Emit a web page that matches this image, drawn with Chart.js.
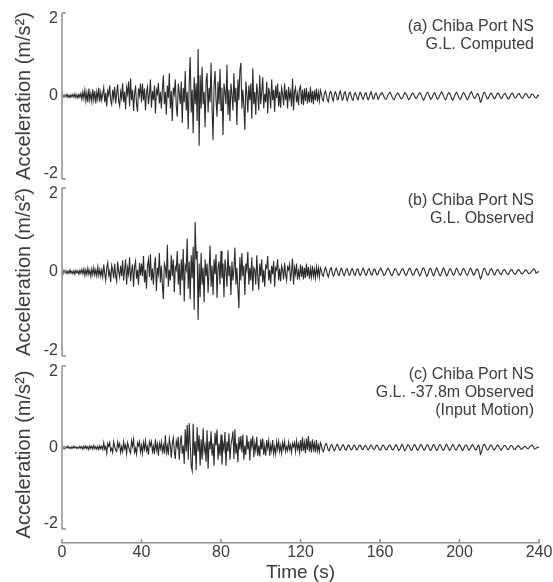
<!DOCTYPE html>
<html>
<head>
<meta charset="utf-8">
<title>Chiba Port NS acceleration</title>
<script src="https://cdn.jsdelivr.net/npm/chart.js@4.4.1/dist/chart.umd.min.js"></script>
<style>
  html, body { margin: 0; padding: 0; background: #fff; }
  #wrap { position: relative; width: 553px; height: 582px; overflow: hidden; }
  .panel { position: absolute; left: 0; width: 553px; }
</style>
</head>
<body>
<div id="wrap">
  <div class="panel" style="top:0;height:188px"><canvas id="panelA"></canvas></div>
  <div class="panel" style="top:180px;height:185px"><canvas id="panelB"></canvas></div>
  <div class="panel" style="top:357px;height:225px"><canvas id="panelC"></canvas></div>
</div>
<script>
// Sample spacing of the records (s)
const dt = 0.5;
const timeTicks = [0, 40, 80, 120, 160, 200, 240];
const accelTicks = [-2, 0, 2];
const yTitle = 'Acceleration (m/s\u00B2)';
const xTitle = 'Time (s)';

const notesA = ['(a) Chiba Port NS', 'G.L. Computed'];
const notesB = ['(b) Chiba Port NS', 'G.L. Observed'];
const notesC = ['(c) Chiba Port NS', 'G.L. -37.8m Observed', '(Input Motion)'];

// (a) G.L. computed, one row = 10 s
const computedGL = [
  0, 0.02, -0.03, 0.03, -0.02, 0.04, -0.03, 0.02, -0.04, 0.03, -0.02, 0.04, -0.03, 0.05, -0.04, 0.03, -0.05, 0.04, -0.03, 0.06,
  -0.08, 0.1, -0.06, 0.14, -0.12, 0.08, -0.15, 0.18, -0.1, 0.06, -0.13, 0.16, -0.09, 0.12, -0.18, 0.1, -0.07, 0.2, -0.14, 0.09,
  -0.1, 0.05, 0.2, -0.15, 0.08, -0.25, 0.12, 0.02, 0.26, -0.1, -0.2, 0.15, -0.05, 0.22, -0.18, 0.06, 0.28, -0.12, -0.24, 0.1,
  -0.05, 0.3, -0.15, 0.1, -0.32, 0.2, 0.05, 0.35, -0.25, 0.42, -0.1, 0.15, -0.36, 0.05, 0.25, -0.2, -0.38, 0.18, 0.02, 0.3,
  -0.15, 0.3, -0.1, 0.18, -0.35, 0.08, 0.22, -0.2, 0.05, 0.4, -0.28, 0.12, -0.1, 0.25, -0.42, 0.15, 0.05, 0.32, -0.18, 0.1,
  -0.3, 0.15, 0.5, -0.2, 0.1, -0.45, 0.25, -0.05, 0.55, -0.3, 0.12, -0.6, 0.2, 0.05, 0.4, -0.25, -0.5, 0.3, 0.08, -0.2,
  0.35, -0.65, 0.2, -0.15, 0.6, -0.35, 0.1, -0.8, 0.3, 0.94, -0.4, 0.15, -0.9, 0.45, -0.2, 0.3, -0.6, 1.13, -1.2, 0.5,
  -0.3, 0.7, -0.2, 0.1, -0.75, 0.35, 0.55, -0.4, 0.2, -0.15, 0.8, -0.3, -1.06, 0.25, 0.6, -0.1, -0.5, 0.35, -0.2, 0.65,
  -0.35, 0.2, -0.94, 0.3, 0.1, -0.2, 0.75, -0.45, 0.15, -0.6, 0.3, 0.05, -0.35, 0.55, -0.15, 0.2, -0.7, 0.4, -0.1, 0.6,
  0.8, -0.3, 0.15, -0.25, -0.82, 0.35, 0.05, -0.4, 0.25, -0.1, 0.3, -0.55, 0.67, -0.2, 0.1, -0.45, 0.3, 0.05, -0.35, 0.5,
  -0.2, 0.1, 0.45, -0.3, 0.05, -0.15, 0.35, -0.42, 0.2, 0.05, -0.3, 0.4, -0.1, 0.15, -0.38, 0.25, -0.05, 0.3, -0.25, 0.1,
  -0.28, 0.2, 0.05, -0.22, 0.3, -0.1, 0.15, -0.3, 0.22, -0.05, 0.1, -0.25, 0.42, -0.34, 0.1, 0.2, -0.15, 0.05, -0.22, 0.18,
  0.24, -0.2, 0.15, -0.22, 0.18, -0.12, 0.2, -0.18, 0.1, -0.15, 0.22, -0.16, 0.12, -0.2, 0.14, -0.1, 0.18, -0.14, 0.08, -0.12,
  0.14, 0.06, -0.08, -0.12, 0.05, 0.12, 0.04, -0.1, -0.14, 0.02, 0.11, 0.08, -0.06, -0.12, 0.03, 0.1, 0.05, -0.09, -0.08, 0.06,
  0.12, 0.02, -0.1, -0.06, 0.08, 0.1, -0.02, -0.11, -0.04, 0.07, 0.09, 0, -0.08, -0.1, 0.04, 0.08, 0.03, -0.06, -0.09, 0.02,
  0.09, 0.06, -0.04, -0.08, -0.02, 0.07, 0.08, -0.03, -0.09, -0.05, 0.05, 0.1, 0.02, -0.07, -0.06, 0.04, 0.07, 0.01, -0.08, -0.04,
  0.03, 0.07, 0.08, 0.04, -0.02, -0.07, -0.08, -0.04, 0.02, 0.06, 0.09, 0.05, -0.01, -0.06, -0.09, -0.05, 0.01, 0.05, 0.07, 0.04,
  -0.02, -0.06, -0.07, -0.03, 0.03, 0.08, 0.06, 0.01, -0.05, -0.09, -0.06, 0, 0.05, 0.07, 0.04, -0.02, -0.06, -0.05, 0, 0.05,
  0.08, 0.05, -0.01, -0.07, -0.1, -0.05, 0.02, 0.07, 0.09, 0.04, -0.03, -0.08, -0.06, 0, 0.06, 0.08, 0.03, -0.04, -0.08, -0.05,
  0.01, 0.06, 0.1, 0.06, -0.01, -0.06, -0.09, -0.04, 0.03, 0.08, 0.07, 0.02, -0.05, -0.1, -0.07, 0, 0.06, 0.09, 0.05, -0.02,
  -0.07, -0.08, -0.03, 0.04, 0.08, 0.06, 0, -0.06, -0.09, -0.05, 0.02, 0.07, 0.1, 0.05, -0.02, -0.06, -0.04, 0.01, 0.06, 0.04,
  -0.04, -0.15, -0.12, -0.02, 0.06, 0.09, 0.05, -0.02, -0.07, -0.06, 0, 0.05, 0.07, 0.03, -0.03, -0.07, -0.05, 0.01, 0.06, 0.07,
  0.03, -0.03, -0.06, -0.04, 0.02, 0.05, 0.06, 0.02, -0.04, -0.07, -0.05, 0, 0.05, 0.07, 0.04, -0.02, -0.05, -0.04, 0.01, 0.05,
  0.06, 0.02, -0.03, -0.06, -0.04, 0.01, 0.05, 0.06, 0.03, -0.02, -0.05, -0.03, 0.02, 0.05, 0.04, 0, -0.04, -0.05, -0.02, 0.02,
  0
];

// (b) G.L. observed
const observedGL = [
  0.01, -0.03, 0.04, -0.02, 0.03, -0.04, 0.02, -0.03, 0.05, -0.03, 0.02, -0.04, 0.03, -0.05, 0.04, -0.02, 0.03, -0.05, 0.04, -0.03,
  0.06, -0.04, 0.07, -0.08, 0.05, -0.06, 0.09, -0.05, 0.04, -0.1, 0.08, -0.06, 0.1, -0.07, 0.05, -0.09, 0.12, -0.08, 0.06, -0.1,
  0.05, -0.12, 0.18, -0.04, -0.2, 0.1, 0.22, -0.08, 0.02, -0.24, 0.16, 0.05, -0.15, 0.2, -0.1, -0.22, 0.25, 0.02, -0.12, 0.15,
  -0.1, 0.28, -0.2, 0.05, 0.3, -0.3, 0.1, -0.05, 0.35, -0.22, 0.02, 0.18, -0.35, 0.12, 0.25, -0.16, 0.05, -0.3, 0.22, -0.08,
  0.2, -0.1, 0.38, -0.25, 0.05, -0.4, 0.15, 0.3, -0.12, 0.42, -0.2, 0.08, -0.3, 0.15, 0.35, -0.45, 0.1, -0.05, 0.45, -0.25,
  0.15, -0.3, -0.65, 0.2, 0.1, -0.15, 0.65, -0.35, 0.05, -0.2, 0.4, -0.1, 0.3, -0.48, 0.12, 0.05, 0.5, -0.3, 0.2, -0.55,
  0.3, -0.2, 0.55, -0.7, 0.15, 0.05, 0.8, -0.4, 0.25, -0.65, 0.4, -0.15, 0.6, -0.9, 1.19, 0.3, 0.5, -1.14, 0.2, -0.6,
  0.45, -0.3, 0.1, -0.72, 0.3, -0.1, 0.2, -0.5, 0.05, 0.63, -0.35, 0.15, -0.55, 0.3, -0.05, 0.42, -0.62, 0.1, 0.25, -0.3,
  0.5, -0.15, 0.2, -0.6, 0.3, 0.05, -0.35, 0.52, -0.1, 0.15, -0.55, 0.25, -0.2, 0.05, 0.58, -0.3, 0.1, -0.4, -0.86, 0.35,
  -0.2, 0.45, -0.1, 0.15, -0.55, 0.2, 0.05, 0.48, -0.3, 0.1, -0.2, 0.35, -0.45, 0.1, 0.05, -0.3, 0.4, -0.1, -0.42, 0.2,
  -0.1, 0.3, -0.25, 0.05, -0.35, 0.15, 0.1, 0.38, -0.2, 0.05, -0.28, 0.15, -0.05, 0.26, -0.35, 0.1, 0.05, 0.3, -0.2, 0.08,
  -0.22, 0.15, 0.05, -0.18, 0.22, -0.05, -0.2, 0.12, 0.05, 0.18, -0.22, 0.02, 0.32, -0.3, 0.1, -0.05, 0.2, -0.18, 0.02, -0.12,
  0.18, -0.12, 0.14, -0.18, 0.1, -0.14, 0.2, -0.1, 0.12, -0.16, 0.08, -0.12, 0.15, -0.1, 0.06, -0.14, 0.12, -0.08, 0.1, -0.12,
  0.1, 0.04, -0.08, -0.1, 0.02, 0.11, 0.06, -0.06, -0.12, -0.02, 0.08, 0.1, -0.02, -0.1, -0.06, 0.05, 0.09, 0.02, -0.07, -0.08,
  0.03, 0.09, 0.05, -0.05, -0.09, -0.02, 0.07, 0.08, -0.01, -0.08, -0.06, 0.04, 0.08, 0.03, -0.06, -0.08, 0, 0.07, 0.06, -0.03,
  -0.08, -0.05, 0.04, 0.09, 0.04, -0.04, -0.08, -0.03, 0.05, 0.08, 0.02, -0.06, -0.07, 0.01, 0.07, 0.06, -0.02, -0.07, -0.05, 0.03,
  0.07, 0.08, 0.03, -0.03, -0.08, -0.07, -0.01, 0.05, 0.09, 0.06, 0, -0.06, -0.09, -0.04, 0.03, 0.08, 0.07, 0.01, -0.05, -0.08,
  -0.04, 0.02, 0.07, 0.08, 0.03, -0.04, -0.08, -0.06, 0.01, 0.07, 0.09, 0.04, -0.03, -0.08, -0.07, 0, 0.06, 0.08, 0.03, -0.04,
  -0.09, -0.06, 0.02, 0.08, 0.1, 0.04, -0.04, -0.1, -0.07, 0.01, 0.08, 0.09, 0.02, -0.06, -0.09, -0.03, 0.05, 0.1, 0.06, -0.02,
  -0.08, -0.09, -0.02, 0.06, 0.1, 0.05, -0.03, -0.09, -0.07, 0.01, 0.07, 0.08, 0.02, -0.05, -0.08, -0.04, 0.04, 0.09, 0.06, -0.01,
  -0.06, -0.08, -0.03, 0.04, 0.08, 0.06, -0.01, -0.07, -0.08, -0.02, 0.05, 0.09, 0.06, -0.02, -0.07, -0.06, 0, 0.06, 0.07, 0.02,
  -0.06, -0.16, -0.13, -0.03, 0.06, 0.09, 0.05, -0.02, -0.07, -0.07, -0.01, 0.05, 0.08, 0.04, -0.03, -0.07, -0.05, 0.02, 0.06, 0.05,
  0, -0.05, -0.06, -0.02, 0.04, 0.06, 0.04, -0.01, -0.05, -0.06, -0.02, 0.03, 0.06, 0.05, 0, -0.04, -0.06, -0.03, 0.02, 0.05,
  0.05, 0.01, -0.03, -0.05, -0.03, 0.01, 0.04, 0.05, 0.02, -0.02, -0.04, -0.03, 0, 0.03, 0.05, 0.08, 0.04, -0.03, -0.02, 0.01,
  0
];

// (c) G.L. -37.8m observed (input motion)
const observedInput = [
  0.01, -0.02, 0.02, -0.03, 0.02, -0.01, 0.03, -0.02, 0.01, -0.03, 0.02, -0.02, 0.03, -0.01, 0.02, -0.03, 0.01, -0.02, 0.03, -0.02,
  0.02, -0.04, 0.03, -0.02, 0.04, -0.03, 0.02, -0.05, 0.04, -0.02, 0.03, -0.04, 0.05, -0.03, 0.02, -0.04, 0.03, -0.05, 0.04, -0.03,
  0.03, -0.05, 0.12, -0.04, 0.02, -0.14, 0.1, 0.03, 0.12, -0.08, -0.02, -0.12, 0.14, 0.02, -0.06, -0.1, 0.13, 0.01, 0.1, -0.12,
  0.02, -0.1, 0.14, -0.03, 0.06, -0.15, 0.12, 0.02, -0.08, -0.14, 0.16, 0.03, 0.2, -0.12, -0.02, -0.16, 0.12, 0.04, 0.14, -0.11,
  0.05, -0.14, 0.12, -0.04, 0.16, -0.08, 0.02, -0.18, 0.14, 0.04, 0.15, -0.1, 0.03, -0.16, 0.2, -0.06, 0.08, -0.2, 0.1, -0.03,
  0.14, -0.1, 0.05, -0.15, 0.3, -0.12, 0.04, -0.18, 0.22, 0.05, -0.25, 0.1, 0.24, -0.08, -0.28, 0.15, 0.02, 0.26, -0.3, 0.1,
  0.3, -0.15, 0.05, -0.4, 0.45, -0.1, 0.55, -0.3, 0.6, 0.1, -0.45, -0.57, 0.58, -0.2, 0.15, -0.55, 0.5, -0.1, 0.3, -0.45,
  0.2, -0.3, 0.47, -0.1, 0.05, -0.35, 0.42, -0.52, 0.15, -0.05, 0.4, -0.2, 0.1, -0.45, 0.36, 0.05, 0.44, -0.3, 0.1, -0.2,
  0.32, -0.42, 0.1, -0.05, 0.38, -0.45, 0.15, -0.1, 0.35, -0.3, 0.05, 0.2, 0.4, -0.28, 0.45, -0.15, 0.1, -0.36, 0.26, -0.05,
  0.28, -0.12, 0.32, -0.3, 0.05, -0.18, 0.3, -0.05, 0.15, -0.32, 0.22, 0.02, 0.28, -0.24, 0.1, -0.08, 0.26, -0.2, 0.05, -0.22,
  0.2, -0.05, 0.22, -0.18, 0.04, -0.2, 0.18, -0.02, 0.16, -0.2, 0.06, -0.08, 0.18, -0.15, 0.02, -0.16, 0.14, -0.04, 0.15, -0.1,
  0.05, -0.14, 0.12, -0.03, 0.15, -0.1, 0.02, -0.08, 0.13, -0.05, 0.06, -0.12, 0.1, 0.02, 0.12, -0.1, 0.16, -0.04, 0.08, -0.12,
  0.18, -0.1, 0.25, -0.08, 0.12, -0.14, 0.22, -0.06, 0.28, -0.1, 0.15, -0.12, 0.2, -0.05, 0.1, -0.12, 0.18, -0.08, 0.06, -0.1,
  0.12, 0.06, -0.06, -0.1, -0.02, 0.08, 0.1, 0.02, -0.07, -0.08, 0.01, 0.07, 0.06, -0.03, -0.08, -0.04, 0.04, 0.08, 0.03, -0.05,
  -0.07, -0.02, 0.05, 0.07, 0.02, -0.05, -0.06, 0, 0.06, 0.05, -0.02, -0.06, -0.04, 0.03, 0.06, 0.03, -0.04, -0.06, -0.01, 0.05,
  0.06, 0.01, -0.05, -0.05, 0.01, 0.05, 0.04, -0.02, -0.06, -0.03, 0.03, 0.06, 0.03, -0.03, -0.05, -0.02, 0.04, 0.06, 0.02, -0.04,
  -0.06, -0.03, 0.03, 0.06, 0.04, -0.02, -0.06, -0.05, 0.01, 0.05, 0.06, 0.02, -0.04, -0.06, -0.03, 0.03, 0.07, 0.04, -0.03, -0.07,
  -0.05, 0.02, 0.08, 0.05, -0.03, -0.08, -0.05, 0.02, 0.07, 0.06, 0, -0.06, -0.07, -0.01, 0.05, 0.07, 0.03, -0.04, -0.07, -0.03,
  0.03, 0.07, 0.05, -0.01, -0.06, -0.06, 0, 0.06, 0.07, 0.02, -0.05, -0.07, -0.03, 0.04, 0.07, 0.04, -0.03, -0.07, -0.05, 0.02,
  0.07, 0.06, 0, -0.06, -0.07, -0.02, 0.05, 0.08, 0.04, -0.03, -0.07, -0.05, 0.02, 0.07, 0.06, -0.01, -0.06, -0.06, 0, 0.05,
  0.07, 0.03, -0.04, -0.07, -0.04, 0.02, 0.06, 0.06, 0.01, -0.05, -0.06, -0.02, 0.04, 0.07, 0.04, -0.02, -0.06, -0.05, 0.01, 0.06,
  0.02, -0.17, -0.13, -0.02, 0.06, 0.08, 0.04, -0.02, -0.06, -0.05, 0, 0.05, 0.06, 0.02, -0.04, -0.06, -0.03, 0.02, 0.06, 0.05,
  0, -0.04, -0.06, -0.03, 0.02, 0.05, 0.05, 0.01, -0.04, -0.05, -0.02, 0.03, 0.05, 0.04, -0.01, -0.05, -0.05, -0.01, 0.03, 0.05,
  0.03, -0.01, -0.04, -0.04, -0.01, 0.02, 0.03, 0.01, -0.02, -0.03, -0.01, 0.02, 0.04, 0.06, 0.03, -0.02, -0.04, -0.02, 0, 0.01,
  0
];

const axisColor = '#8f8f8f';
const textColor = '#3c3c3c';
const traceColor = '#2a2a2a';
const fontFamily = '"Liberation Sans", Arial, Helvetica, sans-serif';

// y axis line from 2 to -2 with inward ticks, inward x ticks, and the panel notes
const framePlugin = {
    id: 'frame',
    afterDraw(chart, args, opts) {
        const { ctx, chartArea } = chart;
        const xs = chart.scales.x;
        const ys = chart.scales.y;
        const left = chartArea.left;
        ctx.save();
        ctx.strokeStyle = axisColor;
        ctx.lineWidth = 1.5;
        ctx.beginPath();
        ctx.moveTo(left, ys.getPixelForValue(2));
        ctx.lineTo(left, ys.getPixelForValue(-2));
        accelTicks.forEach(v => {
            const py = ys.getPixelForValue(v);
            ctx.moveTo(left, py);
            ctx.lineTo(left + 4, py);
        });
        if (opts.xTicks) {
            timeTicks.forEach(v => {
                const px = xs.getPixelForValue(v);
                ctx.moveTo(px, chartArea.bottom);
                ctx.lineTo(px, chartArea.bottom - 4);
            });
        }
        ctx.stroke();

        ctx.fillStyle = textColor;
        ctx.font = '16px ' + fontFamily;
        ctx.textAlign = 'right';
        ctx.textBaseline = 'middle';
        opts.notes.forEach((line, i) => {
            ctx.fillText(line, 534, opts.noteTop + i * 18);
        });
        ctx.restore();
    }
};

// end labels sit just inside the axis, like the original figure
function accelLabel(value) {
    if (value === 2) return ['', '2'];
    if (value === -2) return ['-2', ''];
    return String(value);
}

function createPanel(canvasId, values, notes, noteTop, bottomAxis) {
    const ctx = document.getElementById(canvasId).getContext('2d');
    return new Chart(ctx, {
        type: 'line',
        data: {
            datasets: [{
                data: values.map((v, i) => ({ x: i * dt, y: v })),
                borderColor: traceColor,
                borderWidth: 1.1,
                pointRadius: 0,
                tension: 0
            }]
        },
        options: {
            responsive: true,
            maintainAspectRatio: false,
            animation: false,
            events: [],
            layout: {
                padding: bottomAxis
                    ? { top: 9, bottom: 0, left: 0, right: 14 }
                    : { top: canvasId === 'panelA' ? 13 : 8, bottom: 9, left: 0, right: 14 }
            },
            plugins: {
                legend: { display: false },
                tooltip: { enabled: false },
                frame: { notes: notes, noteTop: noteTop, xTicks: bottomAxis }
            },
            scales: {
                x: {
                    type: 'linear',
                    min: 0,
                    max: 240,
                    display: bottomAxis,
                    afterBuildTicks: s => { s.ticks = timeTicks.map(v => ({ value: v })); },
                    afterFit: s => {
                        if (!bottomAxis) return;
                        s.height = 39;
                        s.paddingLeft = 0;
                        s.paddingRight = 0;
                    },
                    grid: { display: false, drawTicks: false },
                    border: { display: true, color: axisColor, width: 1.5 },
                    ticks: { color: textColor, padding: 0, font: { family: fontFamily, size: 16 } },
                    title: {
                        display: true,
                        text: xTitle,
                        color: textColor,
                        padding: { top: 0, bottom: 0 },
                        font: { family: fontFamily, size: 19, lineHeight: 1 }
                    }
                },
                y: {
                    min: bottomAxis ? -2.344 : -2,
                    max: 2,
                    afterBuildTicks: s => { s.ticks = accelTicks.map(v => ({ value: v })); },
                    afterFit: s => { s.width = 62; s.paddingTop = 0; s.paddingBottom = 0; },
                    grid: { display: false, drawTicks: false },
                    border: { display: false },
                    ticks: {
                        color: textColor,
                        padding: 4,
                        callback: accelLabel,
                        font: { family: fontFamily, size: 16, lineHeight: 0.65 }
                    },
                    title: {
                        display: true,
                        text: yTitle,
                        color: textColor,
                        padding: { top: 14, bottom: 0 },
                        font: { family: fontFamily, size: 20, lineHeight: 1 }
                    }
                }
            }
        },
        plugins: [framePlugin]
    });
}

createPanel('panelA', computedGL, notesA, 27, false);
createPanel('panelB', observedGL, notesB, 21, false);
createPanel('panelC', observedInput, notesC, 18, true);
</script>
</body>
</html>
